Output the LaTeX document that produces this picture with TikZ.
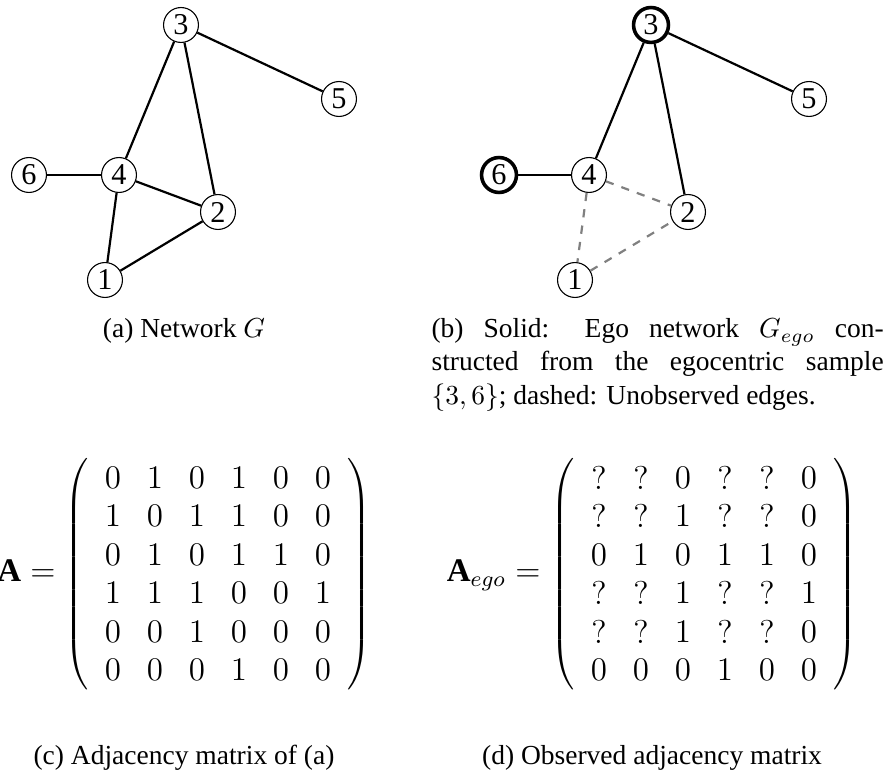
\documentclass[tikz,border=0pt]{standalone}
\usepackage{fontspec}
\setmainfont{Liberation Serif}
\usetikzlibrary{matrix}

\newcommand\egolabelstyle{\fontsize{11}{13}\selectfont}
\newcommand\egocaptionstyle{\normalsize}
\newcommand\egomatrixstyle{\large}
\newcommand\egocellwidth{15.27pt}
\newcommand\egocellheight{14pt}
\newcommand\egoshift{470}

\begin{document}
\begin{tikzpicture}[x=.3636pt, y=-.3636pt,
    vertex/.style={circle, draw, thin, minimum size=12.7pt, inner sep=0pt, font=\egolabelstyle},
    egovertex/.style={vertex, line width=1.3pt},
    seen/.style={thick},
    unseen/.style={thick, dashed, gray},
    adjmatrix/.style={matrix of math nodes, inner sep=0pt,
      left delimiter=(, right delimiter=),
      nodes={minimum width=\egocellwidth, minimum height=\egocellheight,
        inner sep=0pt, anchor=center, font=\egomatrixstyle}}]
    \useasboundingbox (0, 0) rectangle (888, 773) ;
    % (a) network G
    \node[vertex] (a1) at (105, 280) {1} ;
    \node[vertex] (a2) at (218, 212) {2} ;
    \node[vertex] (a3) at (181, 25) {3} ;
    \node[vertex] (a4) at (119, 175) {4} ;
    \node[vertex] (a5) at (339, 99) {5} ;
    \node[vertex] (a6) at (29, 175) {6} ;
    \draw[seen] (a3) -- (a5) ;
    \draw[seen] (a3) -- (a4) ;
    \draw[seen] (a3) -- (a2) ;
    \draw[seen] (a6) -- (a4) ;
    \draw[seen] (a4) -- (a2) ;
    \draw[seen] (a4) -- (a1) ;
    \draw[seen] (a1) -- (a2) ;
    \node[anchor=base, font=\egocaptionstyle] (capa) at (184, 338) {(a) Network $G$} ;
    % (b) ego network
    \begin{scope}[xshift=\egoshift*.3636pt]
      \node[vertex] (b1) at (105, 280) {1} ;
      \node[vertex] (b2) at (218, 212) {2} ;
      \node[egovertex] (b3) at (181, 25) {3} ;
      \node[vertex] (b4) at (119, 175) {4} ;
      \node[vertex] (b5) at (339, 99) {5} ;
      \node[egovertex] (b6) at (29, 175) {6} ;
    \end{scope}
    \draw[seen] (b3) -- (b5) ;
    \draw[seen] (b3) -- (b4) ;
    \draw[seen] (b3) -- (b2) ;
    \draw[seen] (b6) -- (b4) ;
    \draw[unseen] (b4) -- (b2) ;
    \draw[unseen] (b4) -- (b1) ;
    \draw[unseen] (b1) -- (b2) ;
    \node[anchor=base west, text width=164.4pt, align=justify, inner sep=0pt, font=\egocaptionstyle] (capb) at (431, 338)
      {(b) Solid: Ego network $G_{ego}$ con-\linebreak structed from the egocentric sample\linebreak $\{3,6\}$; dashed: Unobserved edges.} ;
    % (c) adjacency matrix
    \matrix (adja) [adjmatrix] at (218, 574) {
      0 & 1 & 0 & 1 & 0 & 0 \\
      1 & 0 & 1 & 1 & 0 & 0 \\
      0 & 1 & 0 & 1 & 1 & 0 \\
      1 & 1 & 1 & 0 & 0 & 1 \\
      0 & 0 & 1 & 0 & 0 & 0 \\
      0 & 0 & 0 & 1 & 0 & 0 \\
    } ;
    \node[anchor=base east, font=\egomatrixstyle, inner sep=0pt] (laba) at (56, 582) {$\mathbf{A} =$} ;
    \node[anchor=base, font=\egocaptionstyle] (capc) at (184, 764) {(c) Adjacency matrix of (a)} ;
    % (d) observed matrix
    \matrix (adjego) [adjmatrix] at (704, 574) {
      ? & ? & 0 & ? & ? & 0 \\
      ? & ? & 1 & ? & ? & 0 \\
      0 & 1 & 0 & 1 & 1 & 0 \\
      ? & ? & 1 & ? & ? & 1 \\
      ? & ? & 1 & ? & ? & 0 \\
      0 & 0 & 0 & 1 & 0 & 0 \\
    } ;
    \node[anchor=base east, font=\egomatrixstyle, inner sep=0pt] (labego) at (541, 582) {$\mathbf{A}_{ego} =$} ;
    \node[anchor=base, font=\egocaptionstyle] (capd) at (652, 764) {(d) Observed adjacency matrix} ;
\end{tikzpicture}
\end{document}
